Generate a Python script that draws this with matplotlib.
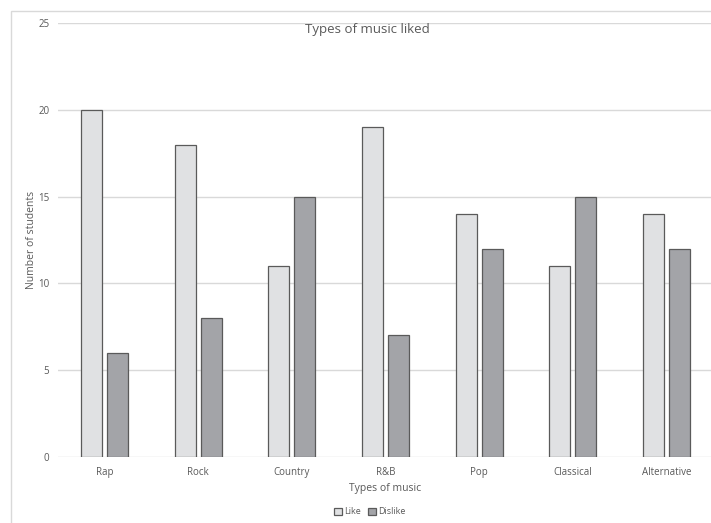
import matplotlib.pyplot as plt
import numpy as np
from matplotlib.patches import Rectangle

categories = ["Rap", "Rock", "Country", "R&B", "Pop", "Classical", "Alternative"]
like = [20, 18, 11, 19, 14, 11, 14]
dislike = [6, 8, 15, 7, 12, 15, 12]
yticks = [0, 5, 10, 15, 20, 25]

W, H = 711, 523
plt.rcParams['font.family'] = ['Open Sans', 'DejaVu Sans']
txt = '#595959'
grid = '#D9D9D9'

fig = plt.figure(figsize=(W / 100, H / 100), dpi=100)

# outer chart border (right and bottom run off the image)
fig.patches.append(Rectangle((11 / W, -0.1), 1.0, 1 - 11 / H + 0.1,
                             transform=fig.transFigure, fill=False,
                             edgecolor=grid, linewidth=1.0))

left, right = 57.7, 713.3
top, bottom = 23, 457
ax = fig.add_axes([left / W, 1 - bottom / H, (right - left) / W, (bottom - top) / H])

x = np.arange(len(categories))
bw = 0.224
off = 0.139
ax.bar(x - off, like, bw, color='#E0E1E3', edgecolor='#5A5A5A', linewidth=0.9, label='Like', zorder=3)
ax.bar(x + off, dislike, bw, color='#A3A4A8', edgecolor='#5A5A5A', linewidth=0.9, label='Dislike', zorder=3)

ax.set_xlim(-0.5, len(categories) - 0.5)
ax.set_ylim(0, 25)
ax.set_yticks(yticks)
ax.set_xticks(x)
ax.set_xticklabels(categories, fontsize=7, color=txt)
ax.set_yticklabels([str(v) for v in yticks], fontsize=7, color=txt)
ax.tick_params(length=0)
ax.tick_params(axis='y', pad=6)
ax.tick_params(axis='x', pad=7)
ax.yaxis.grid(True, color=grid, linewidth=1.0, zorder=0)
for s in ax.spines.values():
    s.set_visible(False)

ax.set_xlabel("Types of music", fontsize=7.5, color=txt, labelpad=4)
fig.text(32 / W, 1 - 240 / H, "Number of students", rotation=90, fontsize=7.5,
         color=txt, ha='center', va='center')
fig.text(367 / W, 1 - 29 / H, "Types of music liked", fontsize=9.5, color=txt,
         ha='center', va='center')

fig.legend(loc='center', bbox_to_anchor=(370 / W, 1 - 512 / H), ncol=2, frameon=False,
           fontsize=6.5, labelcolor=txt, handlelength=0.8, handleheight=0.8,
           handletextpad=0.3, columnspacing=0.8)

fig.savefig("out.png", dpi=100)
